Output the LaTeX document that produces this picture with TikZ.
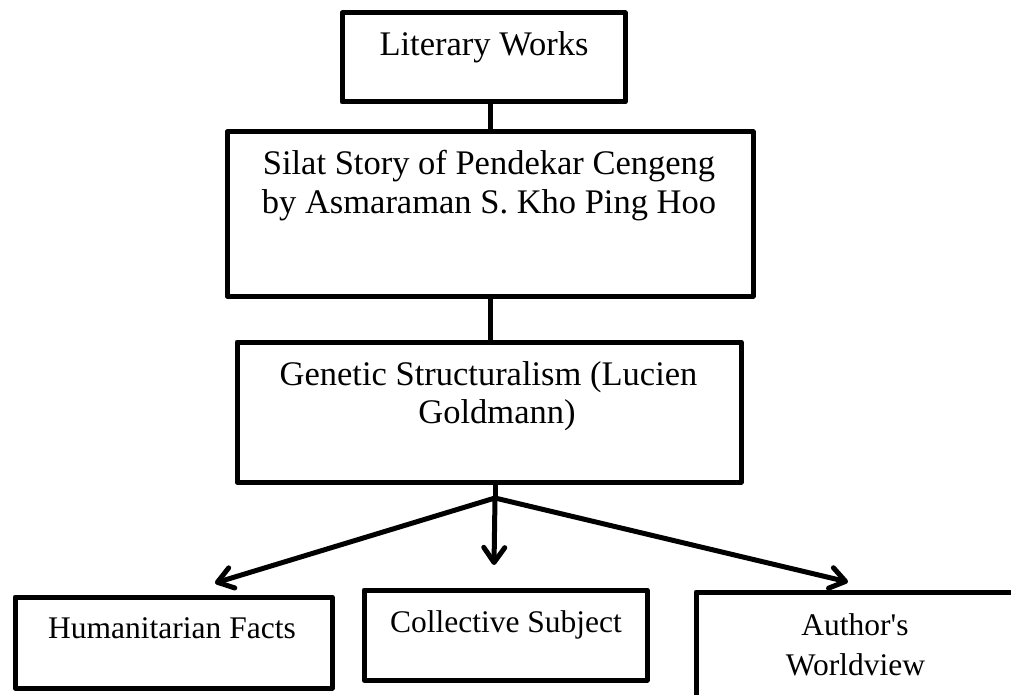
\documentclass[tikz,border=0pt]{standalone}
\usepackage{fontspec}
\setmainfont{Liberation Serif}
\usetikzlibrary{arrows.meta}
\tikzset{
  box/.style={draw=black, line width=5pt, line join=round, inner sep=0pt, fill=white},
  toptxt/.style={inner sep=0pt, anchor=base, font=\fontsize{34.5}{38}\selectfont},
  bottxt/.style={inner sep=0pt, anchor=base, font=\fontsize{31.5}{38}\selectfont},
  link/.style={draw=black, line width=5pt},
  arr/.style={draw=black, line width=5pt, line cap=round, -{Straight Barb[length=15pt,width=21pt,line cap=round,round]}}
}
\begin{document}
\begin{tikzpicture}[x=1pt,y=-1pt]
\useasboundingbox (0,0) rectangle (1011,695);
% boxes
\node[box, minimum width=283pt, minimum height=89pt]  (b1) at (483.5,57.5) {};
\node[box, minimum width=526pt, minimum height=164pt] (b2) at (490,214) {};
\node[box, minimum width=504pt, minimum height=140pt] (b3) at (489,412) {};
\node[box, minimum width=317pt, minimum height=91pt]  (b4) at (173.5,642.5) {};
\node[box, minimum width=283pt, minimum height=90pt]  (b5) at (505.5,635) {};
\node[box, minimum width=320pt, minimum height=138pt] (b6) at (856,661) {};
% texts
\node[toptxt] (t1)  at (484,56)    {Literary Works};
\node[toptxt] (t2a) at (489,175)   {Silat Story of Pendekar Cengeng};
\node[toptxt] (t2b) at (489,213)   {by Asmaraman S. Kho Ping Hoo};
\node[toptxt] (t3a) at (488.5,385) {Genetic Structuralism (Lucien};
\node[toptxt] (t3b) at (497,423)   {Goldmann)};
\node[bottxt] (t4)  at (172,638)   {Humanitarian Facts};
\node[bottxt] (t5)  at (506,632)   {Collective Subject};
\node[bottxt] (t6a) at (855,635)   {Author\textquotesingle s};
\node[bottxt] (t6b) at (855.5,675) {Worldview};
% connectors
\coordinate (split) at (495,498);
\coordinate (tipL) at (215,583);
\coordinate (tipM) at (494,565);
\coordinate (tipR) at (848,582);
\draw[link] (b2.north |- b1.south) -- (b2.north);
\draw[link] (b2.south) -- (b2.south |- b3.north);
\draw[link] (b3.south -| split) -- (split);
\draw[arr] (split) -- (tipL);
\draw[arr] (split) -- (tipM);
\draw[arr] (split) -- (tipR);
\end{tikzpicture}
\end{document}
